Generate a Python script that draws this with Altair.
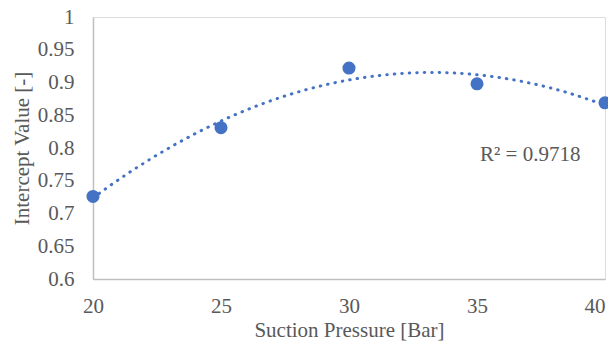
import altair as alt
import pandas as pd

pressure = [20, 25, 30, 35, 40]
intercept = [0.726, 0.831, 0.922, 0.898, 0.869]
y_ticks = [0.6, 0.65, 0.7, 0.75, 0.8, 0.85, 0.9, 0.95, 1.0]
x_ticks = [20, 25, 30, 35, 40]
r2_label = ["R² = 0.9718"]
r2_pos_x = [35.12]
r2_pos_y = [0.789]

df = pd.DataFrame({"p": pressure, "v": intercept})
txt = pd.DataFrame({"x": r2_pos_x, "y": r2_pos_y, "t": r2_label})

FONT = "Liberation Serif"
GRAY = "#595959"
BLUE = "#4472C4"
FS = 21

xs = alt.Scale(domain=[20, 40], nice=False, zero=False)
ys = alt.Scale(domain=[0.6, 1.0], nice=False, zero=False)

x_axis = alt.Axis(values=x_ticks, title="Suction Pressure [Bar]", ticks=False, grid=False,
                  labelFlush=False, labelOverlap=False,
                  labelAlign=alt.expr("datum.value == 40 ? 'right' : 'center'"),
                  domainColor="#BFBFBF", domainWidth=1.5, labelFont=FONT, labelFontSize=FS,
                  labelColor=GRAY, labelPadding=16, titleFont=FONT, titleFontSize=FS,
                  titleFontWeight="normal", titleColor=GRAY, titlePadding=3)
y_axis = alt.Axis(values=y_ticks, format=".2~f", title="Intercept Value [-]", ticks=False, grid=False,
                  labelFlush=False, labelOverlap=False, tickCount=9,
                  domainColor="#BFBFBF", domainWidth=1.5, labelFont=FONT, labelFontSize=FS,
                  labelColor=GRAY, labelPadding=19, titleFont=FONT, titleFontSize=FS,
                  titleFontWeight="normal", titleColor=GRAY, titlePadding=5)

X = alt.X("p:Q", scale=xs, axis=x_axis)
Y = alt.Y("v:Q", scale=ys, axis=y_axis)

trend = alt.Chart(df).transform_regression(
    "p", "v", method="poly", order=2, extent=[20, 40]
).mark_line(color=BLUE, strokeWidth=3, strokeDash=[0.5, 7], strokeCap="round").encode(x=X, y=Y)

points = alt.Chart(df).mark_circle(color=BLUE, size=170, opacity=1).encode(x=X, y=Y)

label = alt.Chart(txt).mark_text(font=FONT, fontSize=FS, color=GRAY, align="left", baseline="middle").encode(
    x=alt.X("x:Q", scale=xs, axis=x_axis),
    y=alt.Y("y:Q", scale=ys, axis=y_axis),
    text="t:N",
)

chart = alt.layer(trend, points, label).resolve_axis(x="shared", y="shared").properties(
    width=512, height=262,
    autosize=alt.AutoSizeParams(type="none"),
    padding={"left": 85, "top": 9, "right": 3, "bottom": 62},
).configure_view(stroke=None).configure(background="white")

chart.save("out.html", embed_options={"renderer": "svg", "actions": False})
